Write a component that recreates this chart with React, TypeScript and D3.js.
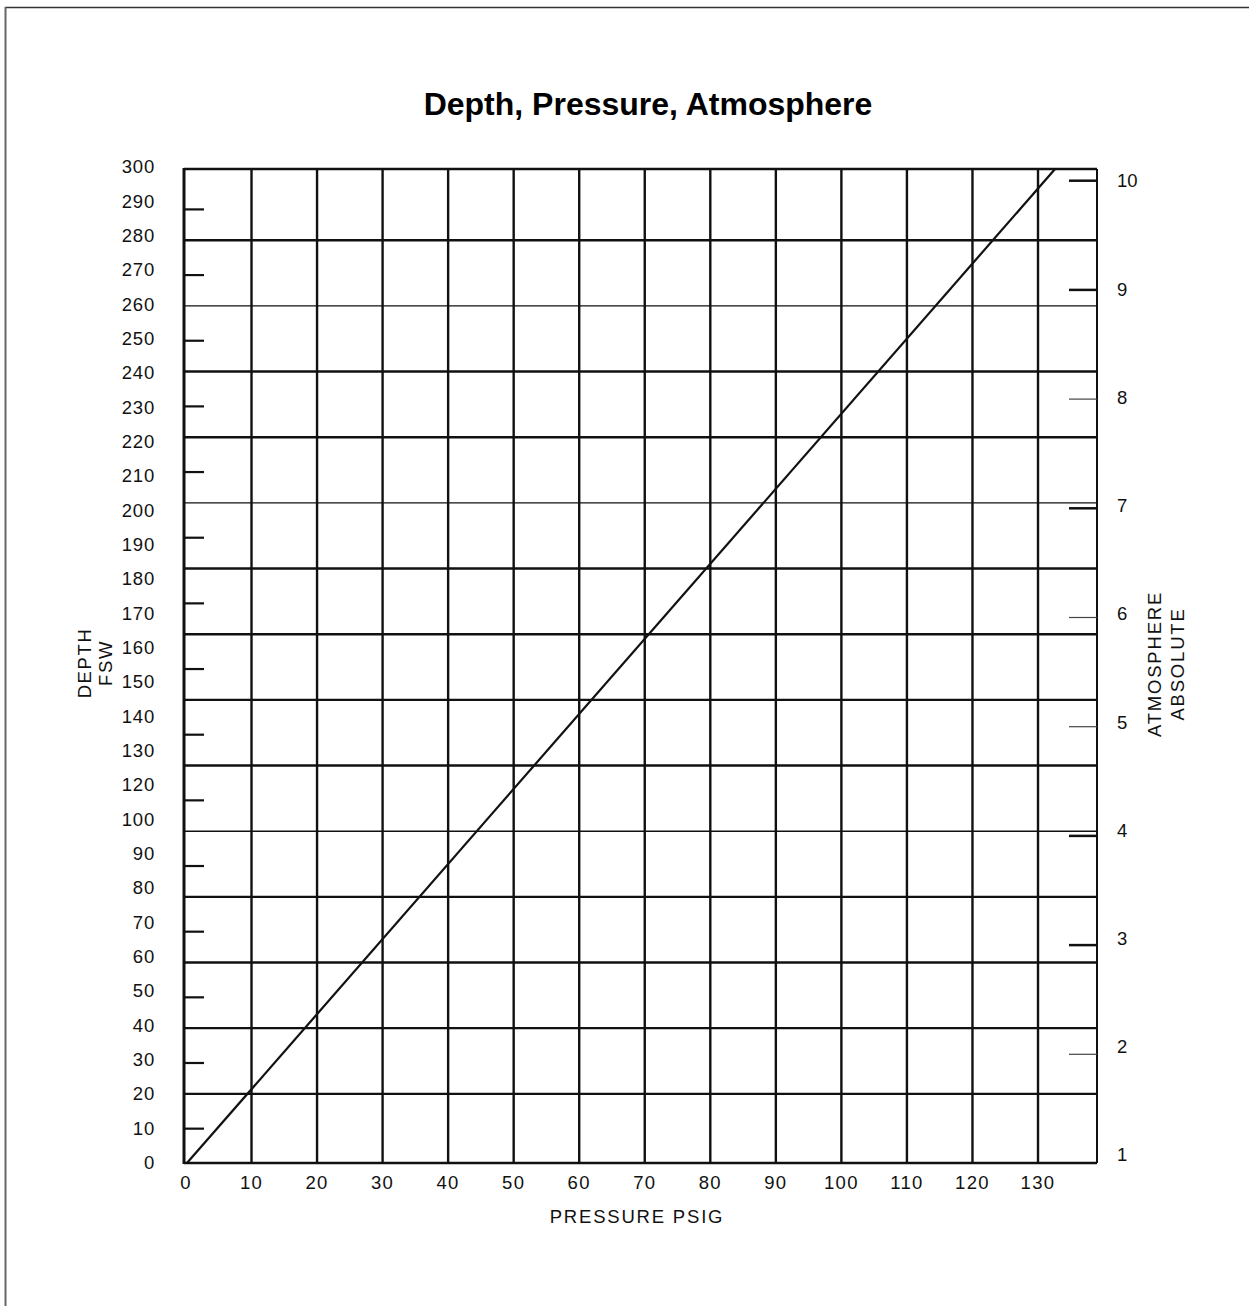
import React from 'react';
import * as d3 from 'd3';

// values
const depthLabels = ['300', '290', '280', '270', '260', '250', '240', '230', '220', '210', '200', '190', '180', '170', '160', '150', '140', '130', '120', '100', '90', '80', '70', '60', '50', '40', '30', '20', '10', '0'];
const pressureLabels = [0, 10, 20, 30, 40, 50, 60, 70, 80, 90, 100, 110, 120, 130];
const pressureGrid = [10, 20, 30, 40, 50, 60, 70, 80, 90, 100, 110, 120, 130];
const depthGrid = [20, 40, 60, 80, 100, 120, 140, 160, 180, 200, 220, 240, 260, 280];
const depthMinorTicks = [10, 30, 50, 70, 90, 110, 130, 150, 170, 190, 210, 230, 250, 270, 290];
const ataTicks = [2, 3, 4, 5, 6, 7, 8, 9, 10];
const ataLabels = [1, 2, 3, 4, 5, 6, 7, 8, 9, 10];
const linePsig = [0.15, 132.6];
const lineFsw = [-1.1, 301.7];

// style only
const thinDepth = new Set([260, 200, 100]);
const thinAta = new Set([2, 5, 6, 8]);
const font = 'Liberation Sans, Arial, sans-serif';
const ink = '#111';

const W = 1249;
const H = 1306;
const left = 184, right = 1097, top = 169, bottom = 1163;

export default function App() {
  const x = d3.scaleLinear().domain([-0.3, 139]).range([left, right]);
  const y = d3.scaleLinear().domain([-1.07, 301.7]).range([bottom, top]);
  const labelY = d3.scalePoint<string>().domain(depthLabels).range([166.7, 1162.7]);
  const ata = d3.scaleLinear().domain([1, 10]).range([1163.5, 180.7]);
  const ataLabelY = d3.scaleLinear().domain([1, 10]).range([1155, 181]);

  const line = d3.line<number>()
    .x((d) => x(d))
    .y((_, i) => y(lineFsw[i]));

  return (
    <svg width={W} height={H} style={{ position: 'absolute', left: 0, top: 0, background: '#fff' }}>
      {/* page border */}
      <line x1={5} y1={7.5} x2={W} y2={7.5} stroke="#333" strokeWidth={1.6} />
      <line x1={5.5} y1={7} x2={5.5} y2={H} stroke="#666" strokeWidth={2} />

      <text x={648} y={115} textAnchor="middle" fontFamily={font} fontWeight="bold" fontSize={32} fill="#000">
        Depth, Pressure, Atmosphere
      </text>

      {/* grid */}
      {pressureGrid.map((p) => (
        <line key={'v' + p} x1={x(p)} x2={x(p)} y1={top} y2={bottom} stroke={ink} strokeWidth={2.4} />
      ))}
      {depthGrid.map((d) => (
        <line key={'h' + d} x1={left} x2={right} y1={y(d)} y2={y(d)} stroke={ink} strokeWidth={thinDepth.has(d) ? 1.4 : 2.4} />
      ))}

      {/* frame */}
      <line x1={left} x2={left} y1={top - 1} y2={bottom + 1} stroke={ink} strokeWidth={3} />
      <line x1={left} x2={right} y1={top} y2={top} stroke={ink} strokeWidth={2.6} />
      <line x1={left} x2={right} y1={bottom} y2={bottom} stroke={ink} strokeWidth={2.6} />
      <line x1={right} x2={right} y1={top} y2={bottom} stroke={ink} strokeWidth={2} />

      {/* left minor ticks */}
      {depthMinorTicks.map((d) => (
        <line key={'t' + d} x1={left} x2={204} y1={y(d) + 2} y2={y(d) + 2} stroke={ink} strokeWidth={2.2} />
      ))}

      {/* right atmosphere ticks */}
      {ataTicks.map((a) => (
        <line key={'a' + a} x1={1069} x2={right} y1={ata(a)} y2={ata(a)} stroke={thinAta.has(a) ? '#444' : ink} strokeWidth={thinAta.has(a) ? 1.2 : 2.5} />
      ))}

      {/* depth-pressure line */}
      <path d={line(linePsig) || ''} fill="none" stroke={ink} strokeWidth={2.2} />

      {/* left labels */}
      {depthLabels.map((l) => (
        <text key={'l' + l} x={155} y={labelY(l)} dy="0.35em" textAnchor="end" fontFamily={font} fontSize={18.5} letterSpacing={0.8} fill="#111">
          {l}
        </text>
      ))}

      {/* bottom labels */}
      {pressureLabels.map((p) => (
        <text key={'p' + p} x={x(p)} y={1183} dy="0.35em" textAnchor="middle" fontFamily={font} fontSize={18.5} letterSpacing={1.3} fill="#111">
          {p}
        </text>
      ))}

      {/* right labels */}
      {ataLabels.map((a) => (
        <text key={'r' + a} x={1117} y={ataLabelY(a)} dy="0.35em" textAnchor="start" fontFamily={font} fontSize={18.5} fill="#111">
          {a}
        </text>
      ))}

      {/* axis titles */}
      <text transform="translate(85,663) rotate(-90)" dy="0.35em" textAnchor="middle" fontFamily={font} fontSize={18.5} letterSpacing={1.6} fill="#111">DEPTH</text>
      <text transform="translate(106,663) rotate(-90)" dy="0.35em" textAnchor="middle" fontFamily={font} fontSize={18.5} letterSpacing={1.6} fill="#111">FSW</text>
      <text transform="translate(1155,664) rotate(-90)" dy="0.35em" textAnchor="middle" fontFamily={font} fontSize={18.5} letterSpacing={1.8} fill="#111">ATMOSPHERE</text>
      <text transform="translate(1178,664) rotate(-90)" dy="0.35em" textAnchor="middle" fontFamily={font} fontSize={18.5} letterSpacing={1.8} fill="#111">ABSOLUTE</text>
      <text x={637} y={1217} dy="0.35em" textAnchor="middle" fontFamily={font} fontSize={18.5} letterSpacing={1.8} fill="#111">PRESSURE PSIG</text>
    </svg>
  );
}
